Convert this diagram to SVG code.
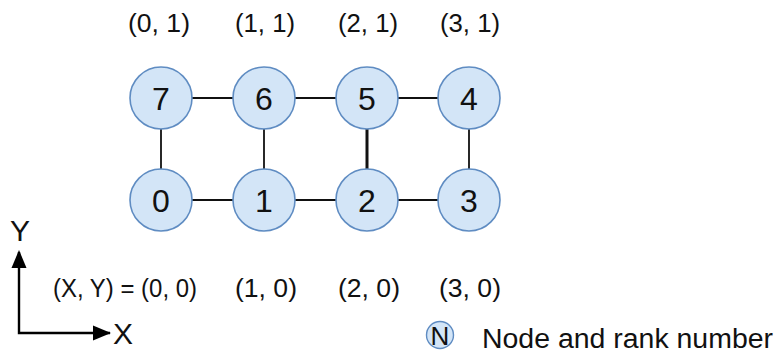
<svg xmlns="http://www.w3.org/2000/svg" width="777" height="356" viewBox="0 0 777 356">
<style>
.nd circle{fill:#d3e5f7;stroke:#5f8cc2;stroke-width:1.6}
.nd text{font-family:"Liberation Sans",Arial,sans-serif;font-size:32px;fill:#111;text-anchor:middle}
.lbl{font-family:"Liberation Sans",Arial,sans-serif;font-size:25px;fill:#111;text-anchor:middle}
.edge{stroke:#111;stroke-width:1.8;fill:none}
.axis{stroke:#000;stroke-width:2.4;fill:none}
</style>
<rect width="777" height="356" fill="#fff"/>
<g id="connectors">
<line class="edge" x1="161" y1="98" x2="264" y2="98"/>
<line class="edge" x1="264" y1="98" x2="367" y2="98"/>
<line class="edge" x1="367" y1="98" x2="469" y2="98"/>
<line class="edge" x1="161" y1="200" x2="264" y2="200"/>
<line class="edge" x1="264" y1="200" x2="367" y2="200"/>
<line class="edge" x1="367" y1="200" x2="469" y2="200"/>
<line class="edge" x1="161" y1="98" x2="161" y2="200"/>
<line class="edge" x1="264" y1="98" x2="264" y2="200"/>
<line class="edge" x1="367" y1="98" x2="367" y2="200" style="stroke-width:3"/>
<line class="edge" x1="469" y1="98" x2="469" y2="200"/>
</g>
<g id="node7" class="nd"><circle cx="161" cy="98" r="31"/><text x="161" y="110">7</text></g>
<g id="node6" class="nd"><circle cx="264" cy="98" r="31"/><text x="264" y="110">6</text></g>
<g id="node5" class="nd"><circle cx="367" cy="98" r="31"/><text x="367" y="110">5</text></g>
<g id="node4" class="nd"><circle cx="469" cy="98" r="31"/><text x="469" y="110">4</text></g>
<g id="node0" class="nd"><circle cx="161" cy="200" r="31"/><text x="161" y="212">0</text></g>
<g id="node1" class="nd"><circle cx="264" cy="200" r="31"/><text x="264" y="212">1</text></g>
<g id="node2" class="nd"><circle cx="367" cy="200" r="31"/><text x="367" y="212">2</text></g>
<g id="node3" class="nd"><circle cx="469" cy="200" r="31"/><text x="469" y="212">3</text></g>
<g id="coords">
<text class="lbl" x="159" y="32" textLength="62" lengthAdjust="spacingAndGlyphs">(0, 1)</text>
<text class="lbl" x="265" y="32" textLength="60" lengthAdjust="spacingAndGlyphs">(1, 1)</text>
<text class="lbl" x="368" y="32" textLength="60" lengthAdjust="spacingAndGlyphs">(2, 1)</text>
<text class="lbl" x="470" y="32" textLength="60" lengthAdjust="spacingAndGlyphs">(3, 1)</text>
<text class="lbl" x="125" y="297" textLength="144" lengthAdjust="spacingAndGlyphs">(X, Y) = (0, 0)</text>
<text class="lbl" x="266" y="297" textLength="62" lengthAdjust="spacingAndGlyphs">(1, 0)</text>
<text class="lbl" x="369" y="297" textLength="62" lengthAdjust="spacingAndGlyphs">(2, 0)</text>
<text class="lbl" x="470" y="297" textLength="62" lengthAdjust="spacingAndGlyphs">(3, 0)</text>
</g>
<g id="axes">
<polyline class="axis" points="19,252 19,333 110,333"/>
<path d="M19,250 L11.5,268 L26.5,268 Z" fill="#000"/>
<path d="M111,333 L93,325.5 L93,340.5 Z" fill="#000"/>
<text x="20" y="241" style="font-family:'Liberation Sans',Arial,sans-serif;font-size:30px;fill:#111;text-anchor:middle">Y</text>
<text x="123" y="344" style="font-family:'Liberation Sans',Arial,sans-serif;font-size:30px;fill:#111;text-anchor:middle">X</text>
</g>
<g id="legend">
<circle cx="440" cy="335" r="13.5" fill="#d3e5f7" stroke="#5f8cc2" stroke-width="1.4"/>
<text x="440" y="344.5" style="font-family:'Liberation Sans',Arial,sans-serif;font-size:26px;fill:#111;text-anchor:middle">N</text>
<text x="482" y="348" textLength="291" lengthAdjust="spacingAndGlyphs" style="font-family:'Liberation Sans',Arial,sans-serif;font-size:27px;fill:#111">Node and rank number</text>
</g>
</svg>
